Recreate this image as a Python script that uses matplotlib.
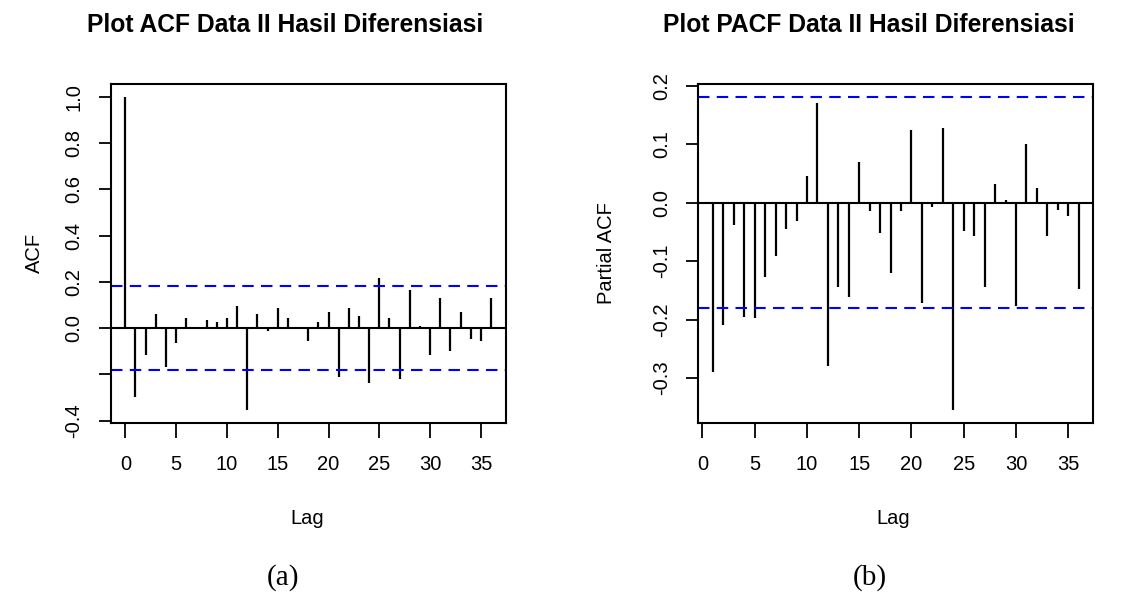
import numpy as np
import matplotlib
matplotlib.use("Agg")
import matplotlib.pyplot as plt

W, H = 1123, 597

# ---- data -----------------------------------------------------------------
acf_lags = list(range(0, 37))
acf_vals = [1.000, -0.298, -0.116, 0.060, -0.169, -0.065, 0.044, 0.003,
            0.036, 0.027, 0.044, 0.096, -0.355, 0.060, -0.014, 0.088,
            0.044, -0.003, -0.057, 0.027, 0.070, -0.212, 0.088, 0.053,
            -0.237, 0.217, 0.044, -0.220, 0.165, 0.010, -0.116, 0.131,
            -0.100, 0.070, -0.047, -0.057, 0.131]

pacf_lags = list(range(1, 37))
pacf_vals = [-0.290, -0.210, -0.038, -0.195, -0.198, -0.127, -0.091, -0.045,
             -0.032, 0.045, 0.171, -0.280, -0.144, -0.161, 0.070, -0.015,
             -0.052, -0.121, -0.015, 0.125, -0.172, -0.008, 0.127, -0.355,
             -0.049, -0.057, -0.144, 0.032, 0.005, -0.176, 0.100, 0.025,
             -0.057, -0.012, -0.022, -0.147]

clim = 0.181
x_ticks = [0, 5, 10, 15, 20, 25, 30, 35]
acf_yticks = [-0.4, -0.2, 0.0, 0.2, 0.4, 0.6, 0.8, 1.0]
acf_ylabels = ["-0.4", "", "0.0", "0.2", "0.4", "0.6", "0.8", "1.0"]
pacf_yticks = [-0.3, -0.2, -0.1, 0.0, 0.1, 0.2]
pacf_ylabels = ["-0.3", "-0.2", "-0.1", "0.0", "0.1", "0.2"]

plt.rcParams["font.family"] = ["Liberation Sans", "DejaVu Sans"]
FS = 14.5


def px(x, y):
    return x / W, 1 - y / H


def rlim(vals, extra):
    lo = min(min(vals), -extra)
    hi = max(max(vals), extra)
    pad = (hi - lo) * 0.04
    return lo - pad, hi + pad


def panel(ax, lags, vals, yticks, ylabels):
    ax.vlines(lags, 0, vals, color="black", lw=1.6)
    ax.axhline(0, color="black", lw=1.5)
    for c in (clim, -clim):
        ax.axhline(c, color="#0000FF", lw=1.5, dashes=(5.5, 3.5))
    xr = max(lags) - min(lags)
    ax.set_xlim(min(lags) - 0.04 * xr, max(lags) + 0.04 * xr)
    ax.set_ylim(*rlim(vals, clim))
    ax.set_xticks(x_ticks)
    ax.set_xticklabels([str(t) for t in x_ticks], fontsize=FS)
    ax.set_yticks(yticks)
    ax.set_yticklabels(ylabels, fontsize=FS, rotation=90, va="center", ha="right")
    ax.tick_params(direction="out", width=1.3, top=False, right=False)
    ax.tick_params(axis="x", length=11, pad=12)
    ax.tick_params(axis="y", length=8.8, pad=11)
    for sp in ax.spines.values():
        sp.set_linewidth(1.5)
        sp.set_color("black")


fig = plt.figure(figsize=(W / 100, H / 100), dpi=100, facecolor="white")

ax1 = fig.add_axes([110.7 / W, 1 - 422.7 / H, 395 / W, 338.4 / H])
panel(ax1, acf_lags, acf_vals, acf_yticks, acf_ylabels)

ax2 = fig.add_axes([698.3 / W, 1 - 422.7 / H, 395 / W, 338.4 / H])
panel(ax2, pacf_lags, pacf_vals, pacf_yticks, pacf_ylabels)

fig.text(*px(285, 25), "Plot ACF Data II Hasil Diferensiasi", ha="center", va="center",
         fontsize=17.7, fontweight="bold")
fig.text(*px(869, 25), "Plot PACF Data II Hasil Diferensiasi", ha="center", va="center",
         fontsize=17.7, fontweight="bold")

fig.text(*px(34, 253), "ACF", rotation=90, ha="center", va="center", fontsize=FS)
fig.text(*px(607, 253), "Partial ACF", rotation=90, ha="center", va="center", fontsize=FS)
fig.text(*px(307, 518), "Lag", ha="center", va="center", fontsize=FS)
fig.text(*px(893, 518), "Lag", ha="center", va="center", fontsize=FS)

fig.text(*px(283, 578), "(a)", ha="center", va="center", fontsize=21,
         family=["Liberation Serif", "DejaVu Serif"])
fig.text(*px(870, 578), "(b)", ha="center", va="center", fontsize=21,
         family=["Liberation Serif", "DejaVu Serif"])

fig.savefig("out.png", dpi=100, facecolor="white")
